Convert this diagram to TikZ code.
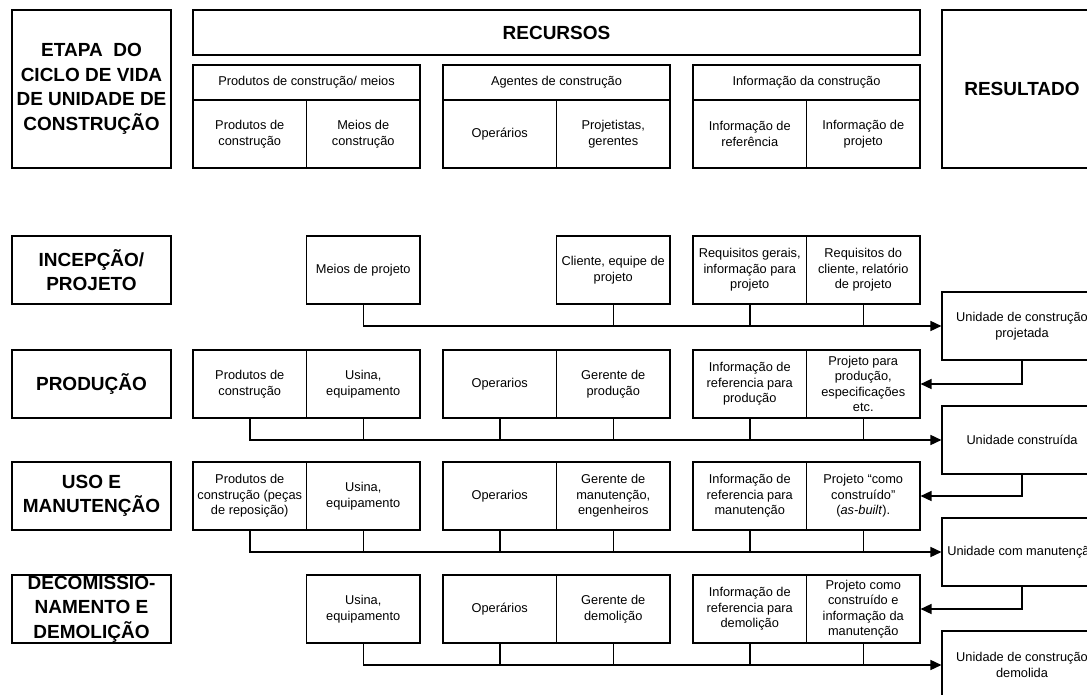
\documentclass[tikz,border=0pt]{standalone}
\usepackage{fontspec}
\setmainfont{Liberation Sans}
\usetikzlibrary{arrows.meta}
\begin{document}
\begin{tikzpicture}[x=1pt,y=-1pt,
  frame/.style={draw=black, line width=1.1pt, inner sep=0pt, align=center},
  txt/.style={font=\fontsize{12.8}{15.5}\selectfont},
  head/.style={font=\fontsize{19}{24.5}\selectfont\bfseries},
  cell/.style={frame, txt, minimum width=113.5pt, minimum height=68pt},
  stage/.style={frame, head, minimum width=159pt, minimum height=68pt},
  result/.style={frame, txt, minimum width=160pt, minimum height=68pt},
  group/.style={frame, txt, minimum width=227pt, minimum height=35pt},
  link/.style={line width=1.5pt},
  flow/.style={link, -{Triangle[length=11pt,width=10pt]}}]

\useasboundingbox (0,0) rectangle (1087,695);
\fill[white] (0,0) rectangle (1087,695);
\clip (0,0) rectangle (1087,695);

% ---- header ----
\node[frame, head, minimum width=159pt, minimum height=158pt] (etapa) at (91.5,89)
  {ETAPA\ \ DO\\CICLO DE VIDA\\DE UNIDADE DE\\CONSTRUÇÃO};
\node[frame, head, minimum width=727pt, minimum height=45pt] (recursos) at (556.5,32.5) {RECURSOS};
\node[frame, head, minimum width=160pt, minimum height=158pt] (resultado) at (1022,89) {RESULTADO};

\node[group] (gprod) at (306.5,82.5) {Produtos de construção/ meios};
\node[group] (gagen) at (556.5,82.5) {Agentes de construção};
\node[group] (ginfo) at (806.5,82.5) {Informação da construção};

\node[cell] (hA) at (249.75,134) {Produtos de\\construção};
\node[cell] (hB) at (363.25,134) {Meios de\\construção};
\node[cell] (hC) at (499.75,134) {Operários};
\node[cell] (hD) at (613.25,134) {Projetistas,\\gerentes};
\node[cell] (hE) at (749.75,134) {Informação de\\referência};
\node[cell] (hF) at (863.25,134) {Informação de\\projeto};

% ---- stage labels ----
\node[stage] (s1) at (91.5,270) {INCEPÇÃO/\\PROJETO};
\node[stage] (s2) at (91.5,384) {PRODUÇÃO};
\node[stage] (s3) at (91.5,496) {USO E\\MANUTENÇÃO};
\node[stage] (s4) at (91.5,609) {DECOMISSIO-\\NAMENTO E\\DEMOLIÇÃO};

% ---- inception / design ----
\node[cell] (B1) at (363.25,270) {Meios de projeto};
\node[cell] (D1) at (613.25,270) {Cliente, equipe de\\projeto};
\node[cell] (E1) at (749.75,270) {Requisitos gerais,\\informação para\\projeto};
\node[cell] (F1) at (863.25,270) {Requisitos do\\cliente, relatório\\de projeto};

% ---- production ----
\node[cell] (A2) at (249.75,384) {Produtos de\\construção};
\node[cell] (B2) at (363.25,384) {Usina,\\equipamento};
\node[cell] (C2) at (499.75,384) {Operarios};
\node[cell] (D2) at (613.25,384) {Gerente de\\produção};
\node[cell] (E2) at (749.75,384) {Informação de\\referencia para\\produção};
\node[cell] (F2) at (863.25,384) {Projeto para\\produção,\\especificações\\etc.};

% ---- use and maintenance ----
\node[cell] (A3) at (249.75,496) {Produtos de\\construção (peças\\de reposição)};
\node[cell] (B3) at (363.25,496) {Usina,\\equipamento};
\node[cell] (C3) at (499.75,496) {Operarios};
\node[cell] (D3) at (613.25,496) {Gerente de\\manutenção,\\engenheiros};
\node[cell] (E3) at (749.75,496) {Informação de\\referencia para\\manutenção};
\node[cell] (F3) at (863.25,496) {Projeto “como\\construído”\\(\textit{as-built}).};

% ---- decommissioning and demolition ----
\node[cell] (B4) at (363.25,609) {Usina,\\equipamento};
\node[cell] (C4) at (499.75,609) {Operários};
\node[cell] (D4) at (613.25,609) {Gerente de\\demolição};
\node[cell] (E4) at (749.75,609) {Informação de\\referencia para\\demolição};
\node[cell] (F4) at (863.25,609) {Projeto como\\construído e\\informação da\\manutenção};

% ---- results ----
\node[result] (R1) at (1022,326) {Unidade de construção\\projetada};
\node[result] (R2) at (1022,440) {Unidade construída};
\node[result] (R3) at (1022,552) {Unidade com manutenção};
\node[result] (R4) at (1022,665) {Unidade de construção\\demolida};

% ---- resource buses into each result ----
\draw[flow] (B1.south) |- (R1.west);
\foreach \n in {D1,E1,F1} \draw[link] (\n.south) -- (\n.south |- R1.west);

\draw[flow] (A2.south) |- (R2.west);
\foreach \n in {B2,C2,D2,E2,F2} \draw[link] (\n.south) -- (\n.south |- R2.west);

\draw[flow] (A3.south) |- (R3.west);
\foreach \n in {B3,C3,D3,E3,F3} \draw[link] (\n.south) -- (\n.south |- R3.west);

\draw[flow] (B4.south) |- (R4.west);
\foreach \n in {C4,D4,E4,F4} \draw[link] (\n.south) -- (\n.south |- R4.west);

% ---- each result feeds the next stage's project information ----
\draw[flow] (R1.south) |- (F2.east);
\draw[flow] (R2.south) |- (F3.east);
\draw[flow] (R3.south) |- (F4.east);
\end{tikzpicture}
\end{document}
